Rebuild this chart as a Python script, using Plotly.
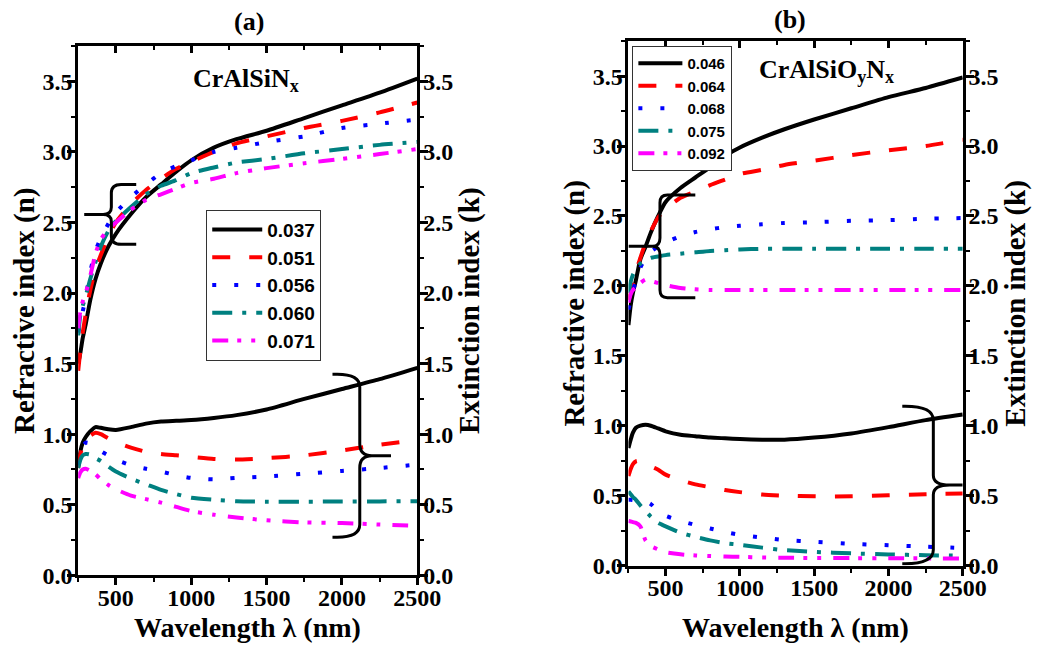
import plotly.graph_objects as go

# ---------------- data ----------------
WL = [250, 265, 280, 300, 330, 365, 400, 450, 500, 600, 700, 800, 900, 1000,
      1150, 1300, 1500, 1750, 2000, 2250, 2500]

# (a) CrAlSiNx : refractive index n
A_LABELS = ["0.037", "0.051", "0.056", "0.060", "0.071"]
A_N_037 = [1.50, 1.58, 1.68, 1.78, 1.95, 2.10, 2.21, 2.33, 2.42, 2.56, 2.68, 2.77, 2.86, 2.94, 3.03, 3.09, 3.15, 3.24, 3.33, 3.42, 3.52]
A_N_051 = [1.45, 1.60, 1.72, 1.85, 2.02, 2.17, 2.27, 2.40, 2.50, 2.63, 2.73, 2.81, 2.88, 2.93, 3.00, 3.06, 3.11, 3.17, 3.22, 3.28, 3.35]
A_N_056 = [1.72, 1.80, 1.87, 1.97, 2.15, 2.30, 2.39, 2.49, 2.57, 2.68, 2.77, 2.85, 2.90, 2.94, 3.00, 3.03, 3.07, 3.11, 3.17, 3.20, 3.23]
A_N_060 = [1.70, 1.85, 1.91, 1.98, 2.10, 2.22, 2.33, 2.44, 2.51, 2.61, 2.70, 2.76, 2.80, 2.85, 2.89, 2.925, 2.95, 2.99, 3.02, 3.05, 3.07]
A_N_071 = [1.75, 1.88, 1.94, 2.00, 2.12, 2.28, 2.38, 2.45, 2.50, 2.59, 2.66, 2.70, 2.74, 2.78, 2.81, 2.85, 2.885, 2.92, 2.95, 2.985, 3.02]
# (a) CrAlSiNx : extinction index k
A_K_037 = [0.78, 0.88, 0.94, 0.98, 1.02, 1.05, 1.045, 1.035, 1.03, 1.05, 1.075, 1.09, 1.095, 1.10, 1.115, 1.135, 1.175, 1.25, 1.32, 1.39, 1.47]
A_K_051 = [0.76, 0.86, 0.92, 0.96, 0.99, 1.01, 1.00, 0.97, 0.945, 0.905, 0.875, 0.86, 0.85, 0.84, 0.825, 0.82, 0.83, 0.85, 0.885, 0.925, 0.96]
A_K_056 = [0.78, 0.86, 0.91, 0.94, 0.935, 0.91, 0.88, 0.85, 0.82, 0.78, 0.755, 0.735, 0.71, 0.69, 0.68, 0.69, 0.70, 0.72, 0.74, 0.76, 0.785]
A_K_060 = [0.76, 0.82, 0.85, 0.86, 0.855, 0.83, 0.81, 0.77, 0.735, 0.685, 0.645, 0.605, 0.575, 0.55, 0.535, 0.525, 0.522, 0.522, 0.523, 0.524, 0.525]
A_K_071 = [0.69, 0.73, 0.75, 0.755, 0.74, 0.715, 0.68, 0.64, 0.61, 0.565, 0.54, 0.515, 0.485, 0.455, 0.43, 0.41, 0.39, 0.375, 0.37, 0.36, 0.35]

# (b) CrAlSiOyNx : refractive index n
B_LABELS = ["0.046", "0.064", "0.068", "0.075", "0.092"]
B_N_046 = [1.72, 1.86, 1.95, 2.04, 2.19, 2.28, 2.38, 2.50, 2.60, 2.70, 2.775, 2.85, 2.93, 2.99, 3.06, 3.12, 3.19, 3.27, 3.35, 3.415, 3.49]
B_N_064 = [1.90, 1.95, 2.01, 2.10, 2.20, 2.31, 2.39, 2.49, 2.55, 2.63, 2.675, 2.72, 2.76, 2.80, 2.83, 2.865, 2.895, 2.935, 2.97, 3.00, 3.045]
B_N_068 = [1.83, 1.90, 1.97, 2.03, 2.13, 2.20, 2.245, 2.28, 2.31, 2.355, 2.385, 2.405, 2.42, 2.43, 2.44, 2.45, 2.455, 2.465, 2.47, 2.48, 2.485]
B_N_075 = [1.95, 2.03, 2.08, 2.12, 2.16, 2.185, 2.20, 2.21, 2.22, 2.23, 2.24, 2.25, 2.255, 2.26, 2.265, 2.265, 2.265, 2.265, 2.265, 2.265, 2.265]
B_N_092 = [1.88, 1.94, 1.97, 1.99, 2.02, 2.045, 2.035, 2.02, 2.005, 1.985, 1.975, 1.97, 1.97, 1.97, 1.97, 1.97, 1.97, 1.97, 1.97, 1.97, 1.97]
# (b) CrAlSiOyNx : extinction index k
B_K_046 = [0.84, 0.90, 0.95, 0.985, 1.00, 1.006, 1.00, 0.98, 0.96, 0.935, 0.925, 0.915, 0.91, 0.905, 0.90, 0.90, 0.915, 0.945, 0.99, 1.04, 1.08]
B_K_064 = [0.64, 0.69, 0.725, 0.745, 0.75, 0.735, 0.71, 0.685, 0.65, 0.61, 0.58, 0.56, 0.54, 0.525, 0.508, 0.50, 0.495, 0.495, 0.502, 0.51, 0.515]
B_K_068 = [0.47, 0.47, 0.468, 0.466, 0.464, 0.46, 0.44, 0.39, 0.356, 0.32, 0.29, 0.265, 0.24, 0.22, 0.20, 0.182, 0.17, 0.155, 0.145, 0.135, 0.125]
B_K_075 = [0.53, 0.51, 0.49, 0.47, 0.43, 0.39, 0.35, 0.305, 0.28, 0.235, 0.205, 0.18, 0.16, 0.148, 0.128, 0.11, 0.098, 0.087, 0.079, 0.074, 0.07]
B_K_092 = [0.32, 0.315, 0.31, 0.305, 0.28, 0.18, 0.14, 0.115, 0.095, 0.08, 0.072, 0.068, 0.064, 0.062, 0.058, 0.056, 0.054, 0.053, 0.052, 0.051, 0.05]

# ---------------- styles ----------------
COLORS = ["#000000", "#ff0000", "#0000ff", "#008080", "#ff00ff"]
DASHES = ["solid", "18px,19px", "4px,18px", "20px,10px,4px,10px", "16px,9px,4px,10px,4px,12px"]
LINE_W = 4

SERIF = "Liberation Serif"
SANS = "Liberation Sans"

fig = go.Figure()


def add_panel(n_axes, k_axes, legend, labels, n_sets, k_sets):
    """n curves use the left/bottom axes, k curves the right/top axes."""
    for i, (lab, n, k) in enumerate(zip(labels, n_sets, k_sets)):
        line = dict(color=COLORS[i], width=LINE_W, dash=DASHES[i], shape="spline", smoothing=0.6)
        fig.add_trace(go.Scatter(x=WL, y=n, name=lab, mode="lines", line=line,
                                 xaxis=n_axes[0], yaxis=n_axes[1], legend=legend))
        fig.add_trace(go.Scatter(x=WL, y=k, name=lab, mode="lines", line=line,
                                 xaxis=k_axes[0], yaxis=k_axes[1], legend=legend,
                                 showlegend=False))


add_panel(("x", "y"), ("x3", "y3"), "legend", A_LABELS,
          [A_N_037, A_N_051, A_N_056, A_N_060, A_N_071],
          [A_K_037, A_K_051, A_K_056, A_K_060, A_K_071])
add_panel(("x2", "y2"), ("x4", "y4"), "legend2", B_LABELS,
          [B_N_046, B_N_064, B_N_068, B_N_075, B_N_092],
          [B_K_046, B_K_064, B_K_068, B_K_075, B_K_092])

# ---------------- axes ----------------
X_RANGE = [250, 2500]
Y_RANGE = [0, 3.75]
TICK_FONT = dict(family=SERIF, size=24, color="black", weight="bold")
TITLE_FONT = dict(family=SERIF, size=28, color="black", weight="bold")
Y_TITLE_FONT = dict(family=SERIF, size=29, color="black", weight="bold")


def x_axis(domain, anchor, top=False, overlay=None):
    ax = dict(domain=domain, anchor=anchor, range=X_RANGE, tick0=0, dtick=500,
              showline=True, linecolor="black", linewidth=3, showgrid=False, zeroline=False,
              ticks="inside" if top else "outside", ticklen=7, tickwidth=2.5, tickcolor="black",
              minor=dict(dtick=250, tick0=0, ticks="inside" if top else "outside",
                         ticklen=4, tickwidth=2, tickcolor="black"),
              tickfont=TICK_FONT, showticklabels=not top, ticklabelstandoff=-8)
    if top:
        ax.update(side="top", overlaying=overlay)
    return ax


def y_axis(domain, anchor, title, right=False, overlay=None):
    ax = dict(domain=domain, anchor=anchor, range=Y_RANGE, tick0=0, dtick=0.5, tickformat=".1f",
              showline=True, linecolor="black", linewidth=3, showgrid=False, zeroline=False,
              ticks="outside", ticklen=8, tickwidth=2.5, tickcolor="black",
              minor=dict(dtick=0.25, tick0=0, ticks="outside", ticklen=4, tickwidth=2, tickcolor="black"),
              tickfont=TICK_FONT, ticklabelstandoff=-10,
              title=dict(text=title, font=Y_TITLE_FONT, standoff=0))
    if right:
        ax.update(side="right", overlaying=overlay)
    return ax


XA_DOM = [80 / 1062, 427 / 1062]
YA_DOM = [(654 - 587) / 654, (654 - 47) / 654]
XB_DOM = [643 / 1062, 985 / 1062]
YB_DOM = [(654 - 577) / 654, (654 - 42) / 654]

N_TITLE = "Refractive index (n)"
K_TITLE = "Extinction index (k)"
WL_TITLE = "Wavelength λ (nm)"

fig.update_layout(
    xaxis=x_axis(XA_DOM, "y"),
    yaxis=y_axis(YA_DOM, "x", N_TITLE),
    xaxis3=x_axis(XA_DOM, "y3", top=True, overlay="x"),
    yaxis3=y_axis(YA_DOM, "x3", K_TITLE, right=True, overlay="y"),
    xaxis2=x_axis(XB_DOM, "y2"),
    yaxis2=y_axis(YB_DOM, "x2", N_TITLE),
    xaxis4=x_axis(XB_DOM, "y4", top=True, overlay="x2"),
    yaxis4=y_axis(YB_DOM, "x4", K_TITLE, right=True, overlay="y2"),
)

# wavelength titles placed just under the tick labels
fig.add_annotation(text=WL_TITLE, xref="x domain", yref="paper", x=0.5, y=1 - 640 / 654,
                   xanchor="center", yanchor="middle", showarrow=False, font=TITLE_FONT)
fig.add_annotation(text=WL_TITLE, xref="x2 domain", yref="paper", x=0.5, y=1 - 640 / 654,
                   xanchor="center", yanchor="middle", showarrow=False, font=TITLE_FONT)

# ---------------- legends ----------------
LEGEND_BASE = dict(bgcolor="white", bordercolor="#333333", borderwidth=1,
                   xanchor="left", yanchor="top", itemwidth=50, tracegroupgap=0,
                   itemclick=False, itemdoubleclick=False)
fig.update_layout(
    legend=dict(LEGEND_BASE, x=211 / 1062, y=1 - 214 / 654,
                font=dict(family=SANS, size=19, color="black", weight="bold")),
    legend2=dict(LEGEND_BASE, x=647 / 1062, y=1 - 47 / 654, itemwidth=44,
                 font=dict(family=SANS, size=15, color="black", weight="bold")),
)

# ---------------- braces grouping the n and k families ----------------


def brace_path(x_arm, x_spine, x_tip, y_top, y_bot, arm_r, tip_r):
    """Curly brace: arms end at x_arm, vertical spine at x_spine, point at x_tip."""
    s = 1 if x_arm > x_spine else -1
    ym = (y_top + y_bot) / 2
    (arx, ary), (trx, tr_y) = arm_r, tip_r
    return (f"M{x_arm},{y_top} L{x_spine + s * arx},{y_top} "
            f"Q{x_spine},{y_top} {x_spine},{y_top - ary} "
            f"L{x_spine},{ym + tr_y} Q{x_spine},{ym} {x_spine - s * trx},{ym} "
            f"L{x_tip},{ym} L{x_spine - s * trx},{ym} "
            f"Q{x_spine},{ym} {x_spine},{ym - tr_y} "
            f"L{x_spine},{y_bot + ary} Q{x_spine},{y_bot} {x_spine + s * arx},{y_bot} "
            f"L{x_arm},{y_bot}")


BRACES = [
    ("x", "y", (635, 470, 290, 2.77, 2.345, (65, 0.06), (55, 0.05))),
    ("x", "y", (1937, 2118, 2325, 1.425, 0.27, (150, 0.09), (80, 0.085))),
    ("x2", "y2", (700, 462, 250, 2.65, 1.915, (50, 0.055), (50, 0.06))),
    ("x2", "y2", (2093, 2302, 2500, 1.14, 0.012, (190, 0.1), (110, 0.07))),
]
for xr, yr, args in BRACES:
    fig.add_shape(type="path", xref=xr, yref=yr, path=brace_path(*args),
                  line=dict(color="black", width=3))

# ---------------- annotations ----------------
ANN_FONT = dict(family=SERIF, size=26, color="black", weight="bold")
fig.add_annotation(text="(a)", xref="paper", yref="paper", x=255 / 1062, y=1 - 22 / 654,
                   xanchor="center", yanchor="middle", showarrow=False, font=ANN_FONT)
fig.add_annotation(text="(b)", xref="paper", yref="paper", x=808 / 1062, y=1 - 20 / 654,
                   xanchor="center", yanchor="middle", showarrow=False, font=ANN_FONT)
fig.add_annotation(text="CrAlSiN<sub>x</sub>", xref="paper", yref="paper",
                   x=195 / 1062, y=1 - 82 / 654, xanchor="left", yanchor="middle",
                   showarrow=False, font=ANN_FONT)
fig.add_annotation(text="CrAlSiO<sub>y</sub>N<sub>x</sub>", xref="paper", yref="paper",
                   x=775 / 1062, y=1 - 72 / 654, xanchor="left", yanchor="middle",
                   showarrow=False, font=ANN_FONT)

fig.update_layout(width=1062, height=654, margin=dict(l=0, r=0, t=0, b=0),
                  paper_bgcolor="white", plot_bgcolor="white", showlegend=True)

fig.write_html("out.html")
